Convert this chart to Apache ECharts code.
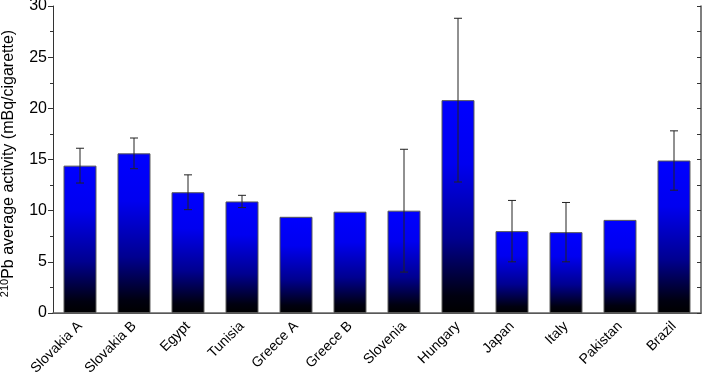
<!DOCTYPE html>
<html>
<head>
<meta charset="utf-8">
<script src="https://cdn.jsdelivr.net/npm/echarts@6/dist/echarts.min.js"></script>
<style>
  html, body { margin: 0; padding: 0; background: #fff; }
  #chart { width: 703px; height: 375px; }
</style>
</head>
<body>
<div id="chart"></div>
<script>
const categories = ['Slovakia A', 'Slovakia B', 'Egypt', 'Tunisia', 'Greece A', 'Greece B',
  'Slovenia', 'Hungary', 'Japan', 'Italy', 'Pakistan', 'Brazil']
const activity = [14.4, 15.6, 11.8, 10.9, 9.4, 9.9, 10.0, 20.8, 8.0, 7.9, 9.1, 14.9]
const errLow = [12.7, 14.1, 10.1, 10.3, null, null, 4.0, 12.8, 5.0, 5.0, null, 12.0]
const errHigh = [16.1, 17.1, 13.5, 11.5, null, null, 16.0, 28.8, 11.0, 10.8, null, 17.8]

const chart = echarts.init(document.getElementById('chart'))
const font = 'Liberation Sans, Arial, sans-serif'

const barGradient = new echarts.graphic.LinearGradient(0, 0, 0, 1, [
  { offset: 0, color: '#0000ff' },
  { offset: 0.3, color: '#0000f0' },
  { offset: 0.65, color: '#000090' },
  { offset: 0.92, color: '#000010' },
  { offset: 1, color: '#000000' },
])

const errData = categories.map((c, i) => [i, errLow[i], errHigh[i]]).filter(d => d[1] != null)

chart.setOption({
  animation: false,
  grid: { left: 53, right: 2, top: 6, bottom: 62, outerBoundsMode: 'none', containLabel: false },
  xAxis: [
    {
      type: 'category',
      data: categories,
      axisLine: { lineStyle: { color: '#333', width: 1 } },
      axisTick: { alignWithLabel: true, length: 5, lineStyle: { color: '#333' } },
      axisLabel: { rotate: 45, color: '#000', fontFamily: font, fontSize: 14, margin: 11, interval: 0 },
    },
    {
      type: 'category',
      position: 'top',
      data: categories,
      axisLine: { lineStyle: { color: '#666', width: 1.5 } },
      axisTick: { show: false },
      axisLabel: { show: false },
    },
  ],
  yAxis: [
    {
      type: 'value',
      min: 0,
      max: 30,
      interval: 5,
      name: '{sup|210}Pb average activity (mBq/cigarette)',
      nameLocation: 'middle',
      nameGap: 35,
      nameTextStyle: {
        color: '#000',
        fontFamily: font,
        fontSize: 16,
        padding: [0, 8, 0, 0],
        rich: {
          sup: { fontSize: 11, verticalAlign: 'bottom', padding: [0, 0, 8, 0], fontFamily: font, color: '#000' },
        },
      },
      axisLine: { show: true, lineStyle: { color: '#333', width: 1 } },
      axisTick: { show: true, length: 5, lineStyle: { color: '#333' } },
      minorTick: { show: true, splitNumber: 2, length: 3, lineStyle: { color: '#333' } },
      axisLabel: { color: '#000', fontFamily: font, fontSize: 16, margin: 6 },
      splitLine: { show: false },
    },
    {
      type: 'value',
      min: 0,
      max: 30,
      interval: 2.5,
      position: 'right',
      axisLine: { show: true, lineStyle: { color: '#555', width: 1.5 } },
      axisTick: { show: true, inside: true, length: 4, lineStyle: { color: '#333' } },
      axisLabel: { show: false },
      splitLine: { show: false },
    },
  ],
  series: [
    {
      type: 'bar',
      data: activity,
      barWidth: '61%',
      itemStyle: { color: barGradient, borderColor: '#555', borderWidth: 1 },
    },
    {
      type: 'custom',
      data: errData,
      z: 10,
      renderItem: (params, api) => {
        const x = api.value(0)
        const lo = api.coord([x, api.value(1)])
        const hi = api.coord([x, api.value(2)])
        const hw = 4
        const style = { stroke: '#222', lineWidth: 1 }
        return {
          type: 'group',
          children: [
            { type: 'line', shape: { x1: lo[0], y1: lo[1], x2: hi[0], y2: hi[1] }, style },
            { type: 'line', shape: { x1: lo[0] - hw, y1: lo[1], x2: lo[0] + hw, y2: lo[1] }, style },
            { type: 'line', shape: { x1: hi[0] - hw, y1: hi[1], x2: hi[0] + hw, y2: hi[1] }, style },
          ],
        }
      },
    },
  ],
})
</script>
</body>
</html>
